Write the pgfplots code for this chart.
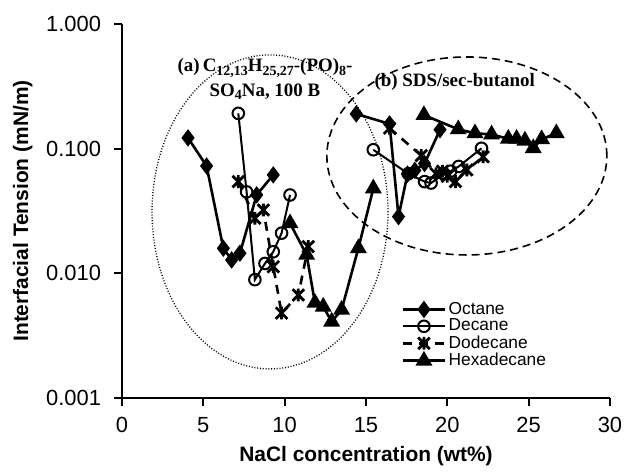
\documentclass[border=0pt]{standalone}
\usepackage{pgfplots}
\pgfplotsset{compat=1.18}
\usepackage{fontspec}
\setmainfont{Liberation Sans}
\newfontfamily\anno{Liberation Serif}
\newcommand{\sub}[1]{\raisebox{-0.45ex}{\fontsize{7}{7}\selectfont #1}}
\pgfdeclareplotmark{xstar}{%
  \pgfpathmoveto{\pgfqpoint{-\pgfplotmarksize}{-\pgfplotmarksize}}%
  \pgfpathlineto{\pgfqpoint{\pgfplotmarksize}{\pgfplotmarksize}}%
  \pgfpathmoveto{\pgfqpoint{-\pgfplotmarksize}{\pgfplotmarksize}}%
  \pgfpathlineto{\pgfqpoint{\pgfplotmarksize}{-\pgfplotmarksize}}%
  \pgfpathmoveto{\pgfqpoint{0pt}{-1.1\pgfplotmarksize}}%
  \pgfpathlineto{\pgfqpoint{0pt}{1.1\pgfplotmarksize}}%
  \pgfusepathqstroke}
\begin{document}
\begin{tikzpicture}
\begin{axis}[
  name=ax,
  scale only axis, width=244bp, height=187bp,
  xmin=0, xmax=30, ymode=log, ymin=0.001, ymax=1,
  axis x line*=bottom, axis y line*=left,
  axis line style={line width=1.1bp, -},
  tick align=outside, major tick length=4bp,
  tick style={line width=1bp, black},
  xtick={0,5,...,30},
  ytick={0.001,0.01,0.1,1}, yticklabels={0.001,0.010,0.100,1.000},
  yminorticks=false,
  /pgf/number format/assume math mode=true,
  ticklabel style={font=\fontsize{11}{12}\selectfont},
  yticklabel style={xshift=-3bp},
  xticklabel style={yshift=-2bp},
  xlabel={NaCl concentration (wt\%)},
  ylabel={Interfacial Tension (mN/m)},
  label style={font=\fontsize{10.5}{12}\selectfont\bfseries},
  clip=false,
  legend style={at={(0.56,0.275)}, anchor=north west, draw=none, fill=none,
    font=\fontsize{8.7}{9}\selectfont, row sep=-1.5bp,
    nodes={inner sep=1.2bp}},
  legend cell align=left,
  legend image code/.code={\draw[mark repeat=2,mark phase=2] plot coordinates {(0bp,0bp) (10.5bp,0bp) (21bp,0bp)};},
  oct/.style={black, line width=1.3bp, mark=diamond*, mark size=3.3bp, mark options={solid}},
  dec/.style={black, line width=1bp, mark=o, mark size=2.9bp, mark options={solid, line width=1bp, fill=white}},
  dod/.style={black, line width=1.3bp, dash pattern=on 4.5bp off 3.5bp, mark=xstar, mark size=2.9bp, mark options={solid, line width=1.4bp}},
  hex/.style={black, line width=1.3bp, mark=triangle*, mark size=3.6bp, mark options={solid}},
]
% ellipses (annotations)
\draw[black, line width=0.65bp, dash pattern=on 0.5bp off 0.9bp] (axis cs:9.1,0.0311) ellipse [x radius=59bp, y radius=78.5bp];
\draw[black, line width=0.8bp, dash pattern=on 4bp off 2.5bp] (axis cs:21.2,0.0874) ellipse [x radius=70bp, y radius=49.5bp];

% (a) system
\addplot[oct] coordinates {(4.06,0.122) (5.2,0.0726) (6.23,0.0159) (6.74,0.0128) (7.25,0.0145) (8.28,0.0426) (9.3,0.0616)};
\addlegendentry{Octane}
\addplot[dec] coordinates {(7.15,0.192) (7.66,0.045) (8.17,0.0089) (8.79,0.012) (9.3,0.0149) (9.81,0.021) (10.33,0.0425)};
\addlegendentry{Decane}
\addplot[dod] coordinates {(7.15,0.0544) (8.17,0.0277) (8.69,0.0322) (9.3,0.0113) (9.81,0.0048) (10.84,0.0067) (11.45,0.0164)};
\addlegendentry{Dodecane}
\addplot[hex] coordinates {(10.33,0.0252) (11.35,0.0141) (11.86,0.0058) (12.37,0.0054) (12.89,0.0041) (13.5,0.0051) (14.53,0.0159) (15.45,0.048)};
\addlegendentry{Hexadecane}

% (b) system
\addplot[oct, forget plot] coordinates {(14.4,0.19) (16.45,0.158) (17.0,0.0285) (17.55,0.0625) (18.0,0.067) (18.6,0.076) (19.55,0.142)};
\addplot[dec, forget plot] coordinates {(15.45,0.098) (17.6,0.063) (18.6,0.0544) (19.0,0.053) (19.8,0.063) (20.2,0.066) (20.7,0.072) (22.1,0.1007)};
\addplot[dod, forget plot] coordinates {(16.45,0.146) (18.4,0.088) (19.3,0.063) (19.7,0.066) (20.0,0.060) (20.5,0.0544) (21.2,0.0675) (22.2,0.086)};
\addplot[hex, forget plot] coordinates {(18.56,0.186) (20.67,0.143) (21.7,0.133) (22.72,0.130) (23.75,0.120) (24.26,0.120) (24.77,0.116) (25.28,0.101) (25.8,0.119) (26.7,0.133)};

\node[font=\anno\bfseries\fontsize{9.5}{12.5}\selectfont, align=center] at (axis cs:8.79,0.362)
  {(a)\,C\sub{12,13}H\sub{25,27}-(PO)\sub{8}-\\SO\sub{4}Na, 100 B};
\node[font=\anno\bfseries\fontsize{9.5}{12.5}\selectfont, anchor=west, inner sep=0pt] at (axis cs:15.5,0.343) {(b) SDS/sec-butanol};
\end{axis}
\pgfresetboundingbox
\path[use as bounding box] ([shift={(-61bp,-37bp)}]ax.south west) rectangle ([shift={(14bp,12bp)}]ax.north east);
\end{tikzpicture}
\end{document}
